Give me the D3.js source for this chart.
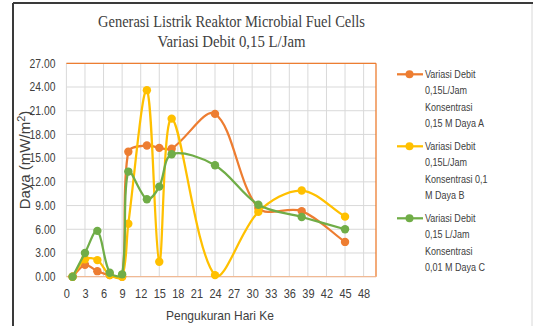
<!DOCTYPE html>
<html><head><meta charset="utf-8">
<script src="https://cdn.jsdelivr.net/npm/d3@7/dist/d3.min.js"></script>
<style>body{margin:0;background:#fff}svg{display:block}</style>
</head><body>
<svg id="c" width="539" height="326"></svg>
<script>
const days = [1, 3, 5, 7, 9, 10, 13, 15, 17, 24, 31, 38, 45];
const dayaA = [0, 1.5, 0.7, 0.2, 0.0, 15.8, 16.6, 16.3, 16.2, 20.6, 8.7, 8.3, 4.4];
const dayaB = [0, 2.2, 2.1, 0.2, 0.0, 6.7, 23.6, 1.9, 20.0, 0.2, 8.2, 10.9, 7.6];
const dayaC = [0, 3.0, 5.8, 0.5, 0.3, 13.3, 9.8, 11.4, 15.5, 14.1, 9.1, 7.55, 6.0];
const xTicks = [0,3,6,9,12,15,18,21,24,27,30,33,36,39,42,45,48];
const yTicks = [0,3,6,9,12,15,18,21,24,27];
const titleLines = ["Generasi Listrik Reaktor Microbial Fuel Cells", "Variasi Debit 0,15 L/Jam"];
const seriesNames = [
  ["Variasi  Debit", "0,15L/Jam", "Konsentrasi", "0,15 M Daya A"],
  ["Variasi  Debit", "0,15L/Jam", "Konsentrasi 0,1", "M Daya B"],
  ["Variasi Debit", "0,15 L/Jam", "Konsentrasi", "0,01 M  Daya C"]
];
const colors = ["#ED7D31", "#FFC000", "#70AD47"];
const xTitle = "Pengukuran Hari Ke";

const svg = d3.select("#c");
const sans = "'Liberation Sans Narrow','Arial Narrow','Liberation Sans',sans-serif";

// Excel-like smoothing curve for d3.line
function ExcelSmooth(context){ this._context = context; }
ExcelSmooth.prototype = {
  areaStart(){ this._line = 0; }, areaEnd(){ this._line = NaN; },
  lineStart(){ this._pts = []; },
  point(x,y){ this._pts.push([+x,+y]); },
  lineEnd(){
    const p = this._pts, c = this._context, n = p.length, k = 1/3;
    if (!n) return;
    c.moveTo(p[0][0], p[0][1]);
    const dist = (a,b)=>Math.hypot(a[0]-b[0], a[1]-b[1]);
    for (let i=0;i<n-1;i++){
      const p0 = p[Math.max(0,i-1)], p1 = p[i], p2 = p[i+1], p3 = p[Math.min(n-1,i+2)];
      const d01 = dist(p0,p1), d12 = dist(p1,p2), d23 = dist(p2,p3);
      const f1 = (d01+d12) ? k*d12/(d01+d12) : 0;
      const f2 = (d12+d23) ? k*d12/(d12+d23) : 0;
      const c1 = [p1[0]+(p2[0]-p0[0])*f1, p1[1]+(p2[1]-p0[1])*f1];
      const c2 = [p2[0]-(p3[0]-p1[0])*f2, p2[1]-(p3[1]-p1[1])*f2];
      c.bezierCurveTo(c1[0],c1[1],c2[0],c2[1],p2[0],p2[1]);
    }
  }
};
const curveExcel = ctx => new ExcelSmooth(ctx);

// outer frame
svg.append("line").attr("x1",13).attr("x2",13).attr("y1",3).attr("y2",326).attr("stroke","#3a3a3a").attr("stroke-width",2);
svg.append("line").attr("x1",13).attr("x2",533).attr("y1",3).attr("y2",3).attr("stroke","#3a3a3a").attr("stroke-width",2);
svg.append("line").attr("x1",532).attr("x2",532).attr("y1",4).attr("y2",326).attr("stroke","#d8d8d8").attr("stroke-width",1);

const x = d3.scaleLinear().domain([0,50]).range([66.4,376]);
const y = d3.scaleLinear().domain([0,27]).range([276.7,63.3]);

// grid
const g = svg.append("g");
g.selectAll(".vg").data(xTicks).join("line")
  .attr("x1",d=>x(d)).attr("x2",d=>x(d)).attr("y1",y(27)).attr("y2",y(0))
  .attr("stroke","#d9d9d9").attr("stroke-width",1);
g.selectAll(".hg").data(yTicks).join("line")
  .attr("x1",x(0)).attr("x2",x(50)).attr("y1",d=>y(d)).attr("y2",d=>y(d))
  .attr("stroke","#d9d9d9").attr("stroke-width",1);
g.append("line").attr("x1",x(0)).attr("x2",x(50)).attr("y1",y(27)).attr("y2",y(27)).attr("stroke","#ED7D31").attr("stroke-width",1.3);
g.append("line").attr("x1",x(50)).attr("x2",x(50)).attr("y1",y(27)).attr("y2",y(0)).attr("stroke","#ED7D31").attr("stroke-width",1.3);
g.append("line").attr("x1",x(0)).attr("x2",x(50)).attr("y1",y(0)).attr("y2",y(0)).attr("stroke","#F4B183").attr("stroke-width",1);

// axes
const yAxis = d3.axisLeft(y).tickValues(yTicks).tickFormat(d3.format(".2f")).tickSize(0).tickPadding(0);
const ya = svg.append("g").attr("transform",`translate(${x(0)-11},0)`).call(yAxis);
ya.select(".domain").remove();
ya.selectAll("text").attr("x",0).attr("transform","scale(0.86,1)")
  .attr("font-family",sans).attr("font-size",12).attr("fill","#404040");
const xAxis = d3.axisBottom(x).tickValues(xTicks).tickFormat(d3.format("d")).tickSize(0).tickPadding(12);
const xa = svg.append("g").attr("transform",`translate(0,${y(0)})`).call(xAxis);
xa.select(".domain").remove();
xa.selectAll("text").attr("transform","scale(0.88,1)")
  .attr("font-family",sans).attr("font-size",12.5).attr("fill","#404040");

// titles
titleLines.forEach((t,i)=>{
  svg.append("text").attr("x",231.5).attr("y",27+i*20).attr("text-anchor","middle")
    .attr("font-family","'Liberation Serif','Times New Roman',serif").attr("font-size",16).attr("fill","#404040")
    .attr("textLength", i===0?267:148).attr("lengthAdjust","spacingAndGlyphs").text(t);
});
svg.append("text").attr("x",220).attr("y",320).attr("text-anchor","middle")
  .attr("font-family",sans).attr("font-size",13).attr("fill","#404040")
  .attr("textLength",108).attr("lengthAdjust","spacingAndGlyphs").text(xTitle);
const yt = svg.append("text").attr("transform","translate(30,160) rotate(-90)").attr("text-anchor","middle")
  .attr("font-family",sans).attr("font-size",15).attr("fill","#404040");
yt.append("tspan").text("Daya (mW/m");
yt.append("tspan").attr("dy",-5).attr("font-size",11).text("2");
yt.append("tspan").attr("dy",5).text(")");

// series
const allData = [dayaA, dayaB, dayaC];
const line = d3.line().x(d=>x(d[0])).y(d=>y(d[1])).curve(curveExcel);
allData.forEach((vals,i)=>{
  const pts = days.map((d,j)=>[d, vals[j]]);
  const sg = svg.append("g");
  sg.append("path").attr("d",line(pts)).attr("fill","none").attr("stroke",colors[i]).attr("stroke-width",2.25);
  sg.selectAll("circle").data(pts).join("circle").attr("cx",d=>x(d[0])).attr("cy",d=>y(d[1])).attr("r",4.2).attr("fill",colors[i]);
});

// legend
seriesNames.forEach((lines,i)=>{
  const y0 = 74.3 + i*72;
  svg.append("line").attr("x1",397).attr("x2",423).attr("y1",y0).attr("y2",y0).attr("stroke",colors[i]).attr("stroke-width",2.25);
  svg.append("circle").attr("cx",409.5).attr("cy",y0).attr("r",4).attr("fill",colors[i]);
  const lg = svg.append("g").attr("transform",`translate(425,${y0}) scale(0.82,1)`);
  lines.forEach((t,k)=>{
    lg.append("text").attr("x",0).attr("y",k*16.3).attr("dy","0.35em")
      .attr("font-family",sans).attr("font-size",11).attr("fill","#404040").text(t);
  });
});
</script>
</body></html>
